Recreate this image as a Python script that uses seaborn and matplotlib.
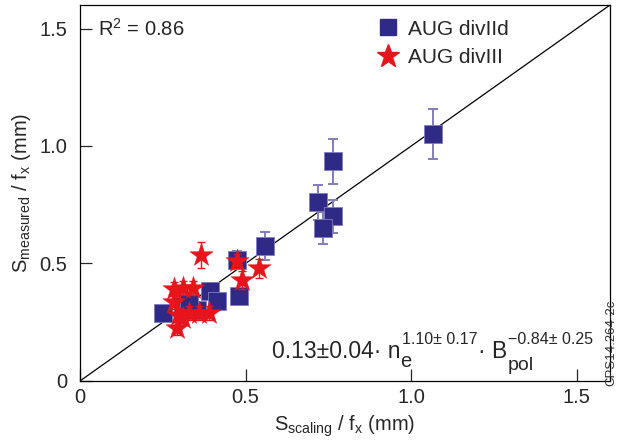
import numpy as np
import pandas as pd
import matplotlib
matplotlib.use("Agg")
import matplotlib.pyplot as plt
import matplotlib.transforms as mtransforms
import seaborn as sns
from matplotlib.lines import Line2D

# divIId discharges (squares)
div2_x = [1.067, 0.765, 0.72, 0.765, 0.735, 0.56, 0.475, 0.48, 0.393, 0.414, 0.25, 0.31, 0.354, 0.33]
div2_y = [1.05, 0.935, 0.76, 0.70, 0.65, 0.575, 0.515, 0.36, 0.385, 0.34, 0.29, 0.32, 0.30, 0.33]
div2_err = [0.107, 0.095, 0.075, 0.07, 0.068, 0.06, 0.04, 0.02, 0.03, 0.02, 0.02, 0.02, 0.02, 0.02]

# divIII discharges (stars)
div3_x = [0.366, 0.475, 0.54, 0.49, 0.285, 0.31, 0.34, 0.285, 0.295, 0.293, 0.33, 0.36, 0.39, 0.31]
div3_y = [0.535, 0.51, 0.48, 0.43, 0.39, 0.395, 0.395, 0.335, 0.28, 0.225, 0.29, 0.29, 0.29, 0.27]
div3_err = [0.055, 0.03, 0.04, 0.04, 0.03, 0.03, 0.03, 0.03, 0.03, 0.03, 0.03, 0.03, 0.03, 0.03]

ticks = [0, 0.5, 1.0, 1.5]
tick_labels = ["0", "0.5", "1.0", "1.5"]

sns.set_style("white")
plt.rcParams["font.family"] = ["Liberation Sans", "DejaVu Sans"]
plt.rcParams["mathtext.fontset"] = "custom"
plt.rcParams["mathtext.rm"] = "Liberation Sans"
plt.rcParams["mathtext.it"] = "Liberation Sans:italic"
plt.rcParams["mathtext.bf"] = "Liberation Sans:bold"

navy = "#2E2A86"
navy_err = "#817DBF"
red = "#E8141C"

df2 = pd.DataFrame({"x": div2_x, "y": div2_y, "err": div2_err, "set": "AUG divIId"})
df3 = pd.DataFrame({"x": div3_x, "y": div3_y, "err": div3_err, "set": "AUG divIII"})

fig = plt.figure(figsize=(6.18, 4.43), dpi=100)
ax = fig.add_axes([0.1294, 0.140, 0.8576, 0.8487])

lim = 1.6
ax.plot([0, lim], [0, lim], color="black", lw=0.9, zorder=1)

ax.errorbar(df2["x"], df2["y"], yerr=df2["err"], fmt="none", ecolor=navy_err,
            elinewidth=1.4, capsize=3.5, capthick=1.4, zorder=2)
sns.scatterplot(data=df2, x="x", y="y", marker="s", s=155, color=navy,
                edgecolor=navy_err, linewidth=0.6, ax=ax, zorder=3, legend=False)

ax.errorbar(df3["x"], df3["y"], yerr=df3["err"], fmt="none", ecolor=red,
            elinewidth=1.0, capsize=3, capthick=1.0, zorder=4)
sns.scatterplot(data=df3, x="x", y="y", marker="*", s=310, color=red,
                edgecolor=red, linewidth=0.3, ax=ax, zorder=5, legend=False)

ax.set_xlim(0, lim)
ax.set_ylim(0, lim)
ax.set_xticks(ticks)
ax.set_xticklabels(tick_labels)
ax.set_yticks(ticks)
ax.set_yticklabels(tick_labels)
ax.tick_params(direction="in", length=8.5, width=0.9, labelsize=14.5,
               bottom=True, left=True, top=False, right=False)
ax.tick_params(axis="x", pad=5)
ax.tick_params(axis="y", pad=9)
for sp in ax.spines.values():
    sp.set_color("black")
    sp.set_linewidth(0.9)

ax.set_xlabel(r"S$_{\mathrm{scaling}}$ / f$_{\mathrm{x}}$ (mm)", fontsize=14.5, labelpad=5)
ax.set_ylabel(r"S$_{\mathrm{measured}}$ / f$_{\mathrm{x}}$ (mm)", fontsize=14.5, labelpad=5)

ax.text(0.055, 1.5, r"R$^{2}$ = 0.86", fontsize=14.5, va="center", ha="left")

handles = [
    Line2D([], [], marker="s", linestyle="none", markersize=12, color=navy,
           markeredgecolor=navy, label="AUG divIId"),
    Line2D([], [], marker="*", linestyle="none", markersize=17, color=red,
           markeredgecolor=red, label="AUG divIII"),
]
ax.legend(handles=handles, loc="upper left", bbox_to_anchor=(0.53, 1.0),
          frameon=False, fontsize=15, handletextpad=0.35, labelspacing=0.45,
          borderaxespad=0.3, handlelength=1.2)

# scaling law, typeset piece by piece in display pixels
fig.canvas.draw()
renderer = fig.canvas.get_renderer()
px = mtransforms.IdentityTransform()


def put(x, y, s, size):
    t = fig.text(x, y, s, fontsize=size, transform=px, ha="left", va="baseline")
    return t.get_window_extent(renderer).x1


base = 85
x0 = 272
xn = put(x0, base, "0.13\u00b10.04\u00b7 n", 16.5)
put(xn, base - 9, "e", 14.5)
xs = put(xn + 1, base + 14, "1.10\u00b1 0.17", 11.5)
xb = put(xs + 1, base, "\u00b7 B", 16.5)
put(xb, base - 12, "pol", 14)
put(xb + 1, base + 14, "\u22120.84\u00b1 0.25", 11.5)

fig.text(0.999, 1 - 386 / 443, "CPS14.264-2c", rotation=90, fontsize=9.5,
         ha="right", va="bottom", color="#333333")

fig.savefig("out.png", dpi=100)
